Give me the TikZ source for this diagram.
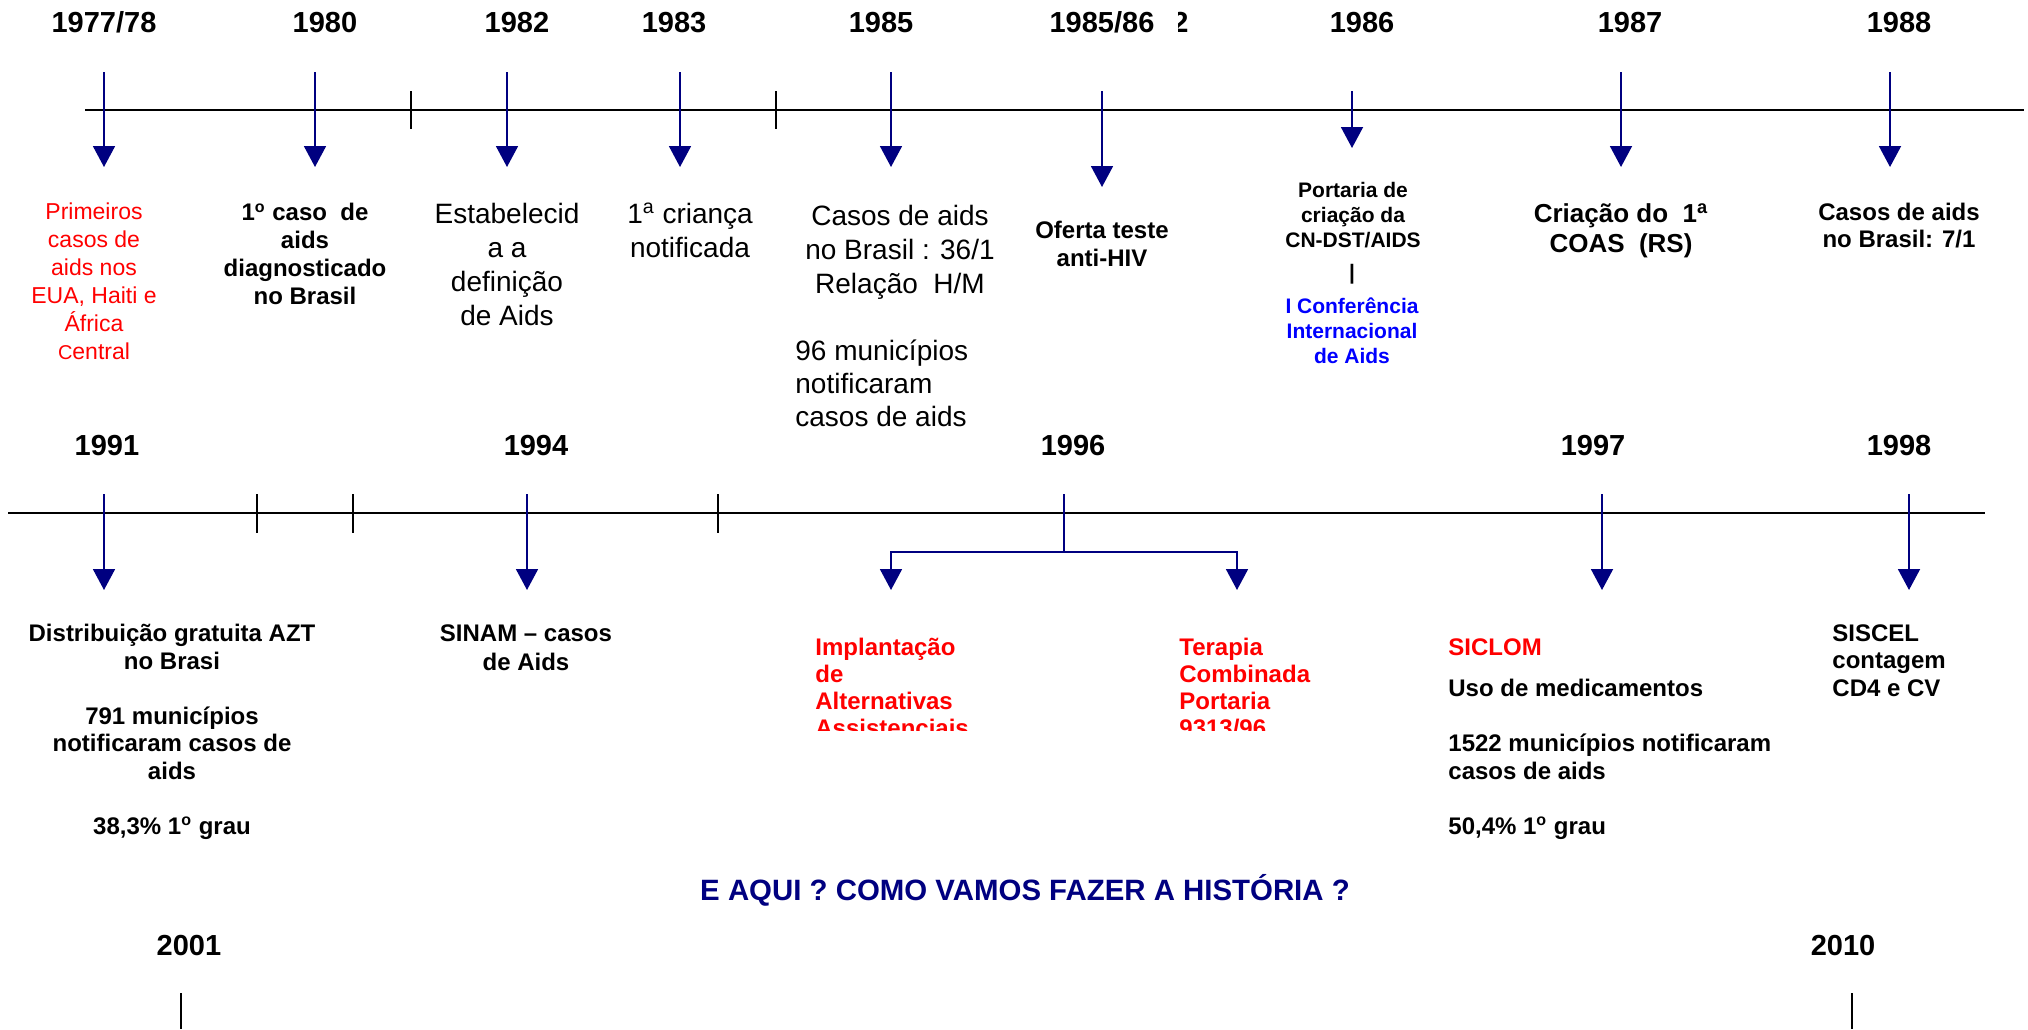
\documentclass[tikz,border=0pt]{standalone}
\usepackage{fontspec}
\setmainfont{Liberation Sans}
\usetikzlibrary{arrows.meta}
\definecolor{navy}{RGB}{0,0,128}
\definecolor{pred}{RGB}{255,0,0}
\definecolor{pblue}{RGB}{0,0,255}
\newcommand\fsz[2]{\fontsize{#1}{#2}\selectfont}
\newcommand\supo{\smash{\textsuperscript{o}}}
\newcommand\supa{\smash{\textsuperscript{a}}}
\begin{document}
\begin{tikzpicture}[x=0.5pt,y=-0.5pt,
  axis/.style={line width=1pt,black},
  tickmark/.style={line width=1pt,black},
  evarrow/.style={draw=navy,line width=0.9pt,-{Triangle[length=10.5pt,width=11pt]}},
  branch/.style={draw=navy,line width=0.9pt},
  yr/.style={inner sep=0pt,anchor=base,font=\bfseries\fsz{14.5}{17}},
  blk/.style={inner sep=0pt,anchor=north,align=center},
  lblk/.style={inner sep=0pt,anchor=north west,align=left},
  ]
\fill[white] (0,0) rectangle (2028,1029);
\useasboundingbox (0,0) rectangle (2028,1029);

% ---------- first timeline ----------
\coordinate (L1a) at (85,110);
\coordinate (L1b) at (2024,110);
\draw[axis] (L1a) -- (L1b);
\foreach \n/\x in {p/411, q/776} {
  \coordinate (tkt\n) at (\x,91);
  \coordinate (tkb\n) at (\x,129);
  \draw[tickmark] (tkt\n) -- (tkb\n);
}
\foreach \n/\x in {a/104, b/315, c/507, d/680, e/891, h/1621, i/1890} {
  \coordinate (top\n) at (\x,72);
  \coordinate (bot\n) at (\x,167);
  \draw[evarrow] (top\n) -- (bot\n);
}
\coordinate (topf) at (1102,91);
\coordinate (botf) at (1102,187);
\draw[evarrow] (topf) -- (botf);
\coordinate (topg) at (1352,91);
\coordinate (botg) at (1352,148);
\draw[evarrow] (topg) -- (botg);

% years, row 1
\node[yr] (y7778) at (104,32.3) {1977/78};
\node[yr] (y80) at (325,32.3) {1980};
\node[yr] (y82) at (517,32.3) {1982};
\node[yr] (y83) at (674,32.3) {1983};
\node[yr] (y85) at (881,32.3) {1985};
\node[yr] (y8586) at (1102,32.3) {1985/86};
\begin{scope}
  \clip (1178,0) rectangle (1200,50);
  \node[yr,anchor=base west] (yfrag) at (1172,32.3) {2};
\end{scope}
\node[yr] (y86) at (1362,32.3) {1986};
\node[yr] (y87) at (1630,32.3) {1987};
\node[yr] (y88) at (1899,32.3) {1988};

% texts, row 1
\node[blk,text=pred,font=\fsz{11.5}{14}] (t7778) at (94,202.5)
  {Primeiros\\casos de\\aids nos\\EUA, Haiti e\\África\\{\fsz{10}{14}C}entral};
\node[blk,font=\bfseries\fsz{12}{14}] (t80) at (305,203)
  {1\supo{} caso\ \ de\\aids\\diagnosticado\\no Brasil};
\node[blk,font=\fsz{14}{17}] (t82) at (507,202.6)
  {Estabelecid\\a a\\definição\\de Aids};
\node[blk,font=\fsz{14}{17}] (t83) at (690,203)
  {1\supa{} criança\\notificada};
\node[blk,font=\fsz{14}{17}] (t85a) at (900,204.6)
  {Casos de aids\\no Brasil : 36/1\\Relação\ \ H/M};
\node[lblk,font=\fsz{14}{16.5}] (t85b) at (795,339.6)
  {96 municípios\\notificaram\\casos de aids};
\node[blk,font=\bfseries\fsz{12}{14}] (t8586) at (1102,221)
  {Oferta teste\\anti-HIV};
\node[blk,font=\bfseries\fsz{10.5}{12.5}] (t86a) at (1353,182)
  {Portaria de\\criação da\\CN-DST/AIDS};
\node[inner sep=0pt,font=\bfseries\fsz{10.5}{12.5}] (t86bar) at (1352,274) {|};
\node[blk,text=pblue,font=\bfseries\fsz{10.5}{12.5}] (t86b) at (1352,297)
  {I Conferência\\Internacional\\de Aids};
\node[blk,font=\bfseries\fsz{13}{15}] (t87) at (1621,203.4)
  {Criação do\ \ 1\supa\\COAS\ \ (RS)};
\node[blk,font=\bfseries\fsz{12}{13.5}] (t88) at (1899,203)
  {Casos de aids\\no Brasil: 7/1};

% ---------- second timeline ----------
\coordinate (L2a) at (8,513);
\coordinate (L2b) at (1985,513);
\draw[axis] (L2a) -- (L2b);
\foreach \n/\x in {r/257, s/353, t/718} {
  \coordinate (tkt\n) at (\x,494);
  \coordinate (tkb\n) at (\x,533);
  \draw[tickmark] (tkt\n) -- (tkb\n);
}
\foreach \n/\x in {j/104, k/527, m/1602, o/1909} {
  \coordinate (top\n) at (\x,494);
  \coordinate (bot\n) at (\x,590);
  \draw[evarrow] (top\n) -- (bot\n);
}
\coordinate (top96) at (1064,494);
\coordinate (mid96) at (1064,552);
\coordinate (lft96) at (891,552);
\coordinate (rgt96) at (1237,552);
\coordinate (botl96) at (891,590);
\coordinate (botr96) at (1237,590);
\draw[branch] (top96) -- (mid96);
\draw[evarrow] (mid96) -- (lft96) -- (botl96);
\draw[evarrow] (mid96) -- (rgt96) -- (botr96);

% years, row 2
\node[yr] (y91) at (107,455) {1991};
\node[yr] (y94) at (536,455) {1994};
\node[yr] (y96) at (1073,455) {1996};
\node[yr] (y97) at (1593,455) {1997};
\node[yr] (y98) at (1899,455) {1998};

% texts, row 2
\node[blk,font=\bfseries\fsz{12}{13.75}] (t91) at (172,624)
  {Distribuição gratuita AZT\\no Brasi\\[13.75pt]791 municípios\\notificaram casos de\\aids\\[13.75pt]38,3\% 1\supo{} grau};
\node[blk,font=\bfseries\fsz{12}{14.5}] (t94) at (526,624)
  {SINAM – casos\\de Aids};
\begin{scope}
  \clip (780,600) rectangle (1450,730);
  \node[lblk,text=pred,font=\bfseries\fsz{12}{13.5}] (t96a) at (815,638)
    {Implantação\\de\\Alternativas\\Assistenciais};
  \node[lblk,text=pred,font=\bfseries\fsz{12}{13.5}] (t96b) at (1179,638)
    {Terapia\\Combinada\\Portaria\\9313/96};
\end{scope}
\node[lblk,text=pred,font=\bfseries\fsz{12}{13.75}] (t97a) at (1448,638) {SICLOM};
\node[lblk,font=\bfseries\fsz{12}{13.75}] (t97b) at (1448,679)
  {Uso de medicamentos\\[13.75pt]1522 municípios notificaram\\casos de aids\\[13.75pt]50,4\% 1\supo{} grau};
\node[lblk,font=\bfseries\fsz{12}{13.75}] (t98) at (1832,624)
  {SISCEL\\contagem\\CD4 e CV};

% ---------- bottom ----------
\node[inner sep=0pt,anchor=base,text=navy,font=\bfseries\fsz{14.7}{17}] (quest) at (1025,900)
  {E AQUI ? COMO VAMOS FAZER A HISTÓRIA ?};
\node[yr] (y01) at (189,955) {2001};
\node[yr] (y10) at (1843,955) {2010};
\coordinate (v01a) at (181,993);
\coordinate (v01b) at (181,1029);
\coordinate (v10a) at (1852,993);
\coordinate (v10b) at (1852,1029);
\draw[line width=0.8pt] (v01a) -- (v01b);
\draw[line width=0.8pt] (v10a) -- (v10b);
\end{tikzpicture}
\end{document}
